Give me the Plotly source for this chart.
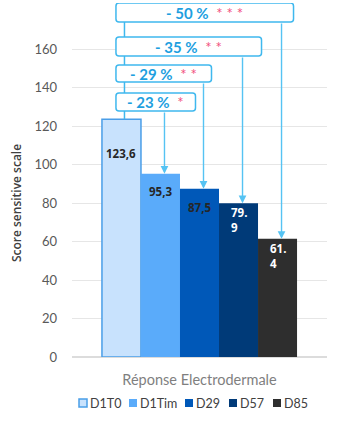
import plotly.graph_objects as go

# Data
category = ["Réponse Electrodermale"]
series = ["D1T0", "D1Tim", "D29", "D57", "D85"]
values = [123.6, 95.3, 87.5, 79.9, 61.4]
value_text = ["123,6", "95,3", "87,5", "79.<br>9", "61.<br>4"]
reductions = ["- 23 %", "- 29 %", "- 35 %", "- 50 %"]
stars = ["*", "* *", "* *", "* * *"]
y_ticks = [0, 20, 40, 60, 80, 100, 120, 140, 160]

# Styling
fills = ["#C8E2FD", "#5AABFA", "#0058B8", "#003A78", "#2E2E2E"]
borders = ["#4A9EE8", "#5AABFA", "#0058B8", "#003A78", "#2E2E2E"]
label_colors = ["#262626", "#262626", "#262626", "#FFFFFF", "#FFFFFF"]
label_drop_px = [34, 18, 19, 17, 17]
bracket_color = "#3FB8EE"
arrow_color = "#55C3F3"
pct_color = "#1E9FDF"
star_color = "#F2507E"

W, H = 343, 429
ml, mr, mt, mb = 72, 16, 3, 72
y_max = 184
bargap = 0.235
n = len(series)
bw = (1 - bargap) / n
plot_w = W - ml - mr
plot_h = H - mt - mb
px_x = 1.0 / plot_w          # one pixel in x data units
px_y = y_max / plot_h        # one pixel in y data units


def centre(i):
    return -0.5 + bargap / 2 + bw * (i + 0.5)


def to_y(py):
    return (H - mb - py) * px_y


fig = go.Figure()
for i, name in enumerate(series):
    fig.add_trace(go.Bar(
        x=category, y=[values[i]], name=name,
        marker=dict(color=fills[i], line=dict(color=borders[i], width=1.5 if i == 0 else 0)),
        hoverinfo="skip", showlegend=False,
    ))

shapes = []
annotations = []

# value labels inside the bars
for i, v in enumerate(values):
    annotations.append(dict(
        x=centre(i), y=v, xref="x", yref="y", text=f"<b>{value_text[i]}</b>",
        showarrow=False, yanchor="middle", yshift=-label_drop_px[i], align="left",
        font=dict(family="Open Sans", size=11.5, color=label_colors[i]),
    ))

# comparison brackets: (box top px, box bottom px, right extra px)
box_rows = [(93, 111, 31), (65, 82, 8), (37, 56, 19), (3, 22, 12)]
left_px = 14
left_line_x = centre(0) + 3 * px_x
box_left = centre(0) - bw / 2 + left_px * px_x


def rounded_rect(x0, x1, y0, y1, r=3):
    rx, ry = r * px_x, r * px_y
    return (f"M {x0+rx},{y1} L {x1-rx},{y1} Q {x1},{y1} {x1},{y1-ry} "
            f"L {x1},{y0+ry} Q {x1},{y0} {x1-rx},{y0} L {x0+rx},{y0} "
            f"Q {x0},{y0} {x0},{y0+ry} L {x0},{y1-ry} Q {x0},{y1} {x0+rx},{y1} Z")


# left vertical connector down to the reference bar
shapes.append(dict(type="line", xref="x", yref="y", x0=left_line_x, x1=left_line_x,
                   y0=values[0], y1=to_y(box_rows[-1][1]),
                   line=dict(color=bracket_color, width=1.5)))

for k, (top, bot, extra) in enumerate(box_rows):
    target = k + 1
    ax_x = centre(target) + 4 * px_x
    x1 = ax_x + extra * px_x
    y_top, y_bot = to_y(top), to_y(bot)
    shapes.append(dict(type="path", xref="x", yref="y",
                       path=rounded_rect(box_left, x1, y_bot, y_top),
                       fillcolor="white", line=dict(color=bracket_color, width=1.5)))
    annotations.append(dict(
        x=ax_x, y=values[target], xref="x", yref="y",
        ax=ax_x, ay=y_bot, axref="x", ayref="y",
        text="", showarrow=True, arrowhead=2, arrowsize=1.1, arrowwidth=1.4,
        arrowcolor=arrow_color, standoff=0,
    ))
    annotations.append(dict(
        x=(box_left + x1) / 2, y=(y_top + y_bot) / 2, xref="x", yref="y",
        text=f"<b>{reductions[k]}</b>  <span style='color:{star_color}'>{stars[k]}</span>",
        showarrow=False, font=dict(family="Lato", size=15, color=pct_color),
    ))

# y-axis title centred on the tick range
annotations.append(dict(
    x=0, xref="paper", xanchor="center", xshift=-56,
    y=(y_ticks[0] + y_ticks[-1]) / 2, yref="y", yanchor="middle",
    text="Score sensitive scale", textangle=-90, showarrow=False,
    font=dict(family="Open Sans", size=12, color="#404040", weight=600),
))

# legend row along the bottom
legend_sq_px = [79, 129, 185, 229, 273]
legend_y_px = 403
for i, name in enumerate(series):
    x0 = legend_sq_px[i]
    shapes.append(dict(type="rect", xref="paper", yref="paper",
                       x0=(x0 - ml) / plot_w, x1=(x0 + 8 - ml) / plot_w,
                       y0=(H - mb - legend_y_px - 4) / plot_h,
                       y1=(H - mb - legend_y_px + 4) / plot_h,
                       fillcolor=fills[i],
                       line=dict(color=borders[i], width=1.5 if i == 0 else 0)))
    annotations.append(dict(
        x=(x0 + 9 - ml) / plot_w, xref="paper", xanchor="left",
        y=(H - mb - legend_y_px) / plot_h, yref="paper", yanchor="middle",
        text=name, showarrow=False,
        font=dict(family="Lato", size=12.5, color="#404040"),
    ))

fig.update_layout(
    width=W, height=H,
    margin=dict(l=ml, r=mr, t=mt, b=mb),
    paper_bgcolor="white", plot_bgcolor="white",
    barmode="group", bargap=bargap, bargroupgap=0,
    font=dict(family="Lato", color="#595959"),
    showlegend=False,
    xaxis=dict(range=[-0.5, 0.5], showgrid=False, showline=False, zeroline=False,
               tickfont=dict(size=14.5, color="#7F7F7F"), ticks="",
               ticklabelstandoff=12, fixedrange=True),
    yaxis=dict(range=[0, y_max], tickvals=y_ticks, showgrid=True, gridcolor="#E6E6E6",
               gridwidth=1, zeroline=True, zerolinecolor="#DCDCDC", zerolinewidth=2,
               showline=False, tickfont=dict(size=13, color="#595959"),
               ticklabelstandoff=14, fixedrange=True),
    shapes=shapes, annotations=annotations,
)

fig.write_html("out.html")
